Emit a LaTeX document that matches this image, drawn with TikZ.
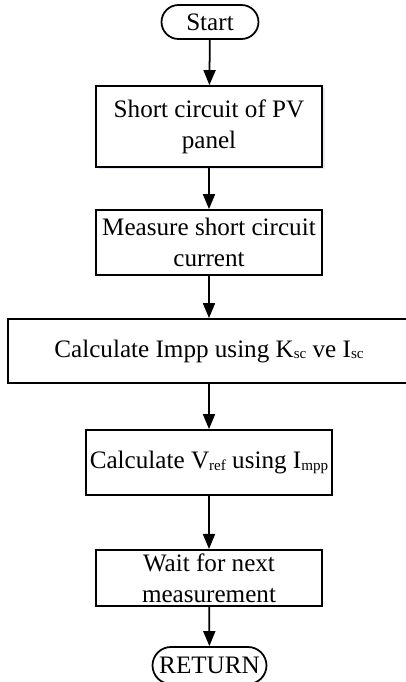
\documentclass[tikz,border=0pt]{standalone}
\usepackage{fontspec}
\setmainfont{Liberation Serif}
\usetikzlibrary{arrows.meta,shapes.misc,shadows}

\newcommand{\subtxt}[1]{\raisebox{-0.15ex}{\fontsize{8.6}{9}\selectfont #1}}

\tikzset{
  stepbox/.style={draw, line width=1pt, align=center, inner sep=2pt,
                  minimum width=4.52cm},
  terminal/.style={draw, line width=1pt, rounded rectangle, inner sep=2pt},
  flow/.style={line width=1pt, -{Triangle[length=0.3cm,width=0.24cm]}}
}

\begin{document}
\begin{tikzpicture}[font=\fontsize{14.3}{17.8}\selectfont]
%    \draw[black,thin] (0.0,0.0) grid (8.0,13.0);
    \useasboundingbox (0.0,0.0) rectangle (8.12,13.64);

    % start / return
    \node [terminal, minimum width=2.08cm, minimum height=0.68cm] (start)  at (4.20,13.20) {Start};
    \node [terminal, minimum width=2.42cm, minimum height=0.74cm] (return) at (4.19,0.33)  {RETURN};

    % steps
    \node [stepbox, minimum height=1.62cm,
           drop shadow={fill=blue!40!gray, opacity=0.12, shadow xshift=0.05cm, shadow yshift=-0.05cm},
           fill=white] (short) at (4.18,11.11) {Short circuit of PV\\panel};
    \node [stepbox, minimum height=1.30cm] (meas) at (4.18,8.79) {Measure short circuit\\current};
    \node [stepbox, minimum width=8.04cm, minimum height=1.28cm] (impp) at (4.18,6.62)
          {Calculate Impp using K\subtxt{sc} ve I\subtxt{sc}};
    \node [stepbox, minimum height=1.30cm] (vref) at (4.18,4.39)
          {Calculate V\subtxt{ref} using I\subtxt{mpp}};
    \node [stepbox, minimum height=1.08cm] (wait) at (4.18,2.08) {Wait for next\\measurement};

    % arrows
    \draw[flow] (start) -- (short);
    \draw[flow] (short) -- (meas);
    \draw[flow] (meas)  -- (impp);
    \draw[flow] (impp)  -- (vref);
    \draw[flow] (vref)  -- (wait);
    \draw[flow] (wait)  -- (return);

\end{tikzpicture}
\end{document}
